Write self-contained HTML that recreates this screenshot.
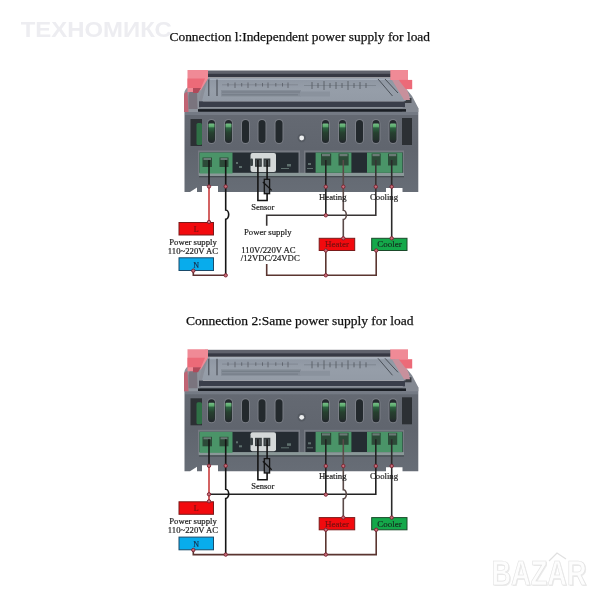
<!DOCTYPE html>
<html><head><meta charset="utf-8">
<style>
html,body{margin:0;padding:0;background:#fff;width:600px;height:600px;overflow:hidden}
svg{display:block;will-change:transform}
text{font-family:"Liberation Serif",serif}
</style></head><body>
<svg width="600" height="600" viewBox="0 0 600 600">
<defs>
<g id="dev">
  <!-- body -->
  <defs><linearGradient id="bodyg" x1="0" y1="0" x2="0" y2="1"><stop offset="0" stop-color="#656a73"/><stop offset="0.5" stop-color="#60656e"/><stop offset="1" stop-color="#676d76"/></linearGradient></defs>
  <path d="M184.5,108 L418.3,108 L418.3,192 L402.5,192 L402.5,188 L386,188 L386,192 L218,192 L218,186 L202,186 L202,192 L197,192 L197,187.5 L190,192 L184.5,192 Z" fill="url(#bodyg)"/>
  <rect x="185" y="111.7" width="233" height="3.3" fill="#747a84"/>
  <!-- left frame -->
  <path d="M184,94 Q185,87 191,86 L207,78 L210,78 L203,101 L199,112 L184,112 Z" fill="#8e939c"/>
  <path d="M188.5,96 Q189,90 193,90 L197,90 L197.5,109 L188.5,109 Z" fill="#7a747e"/>
  <!-- right frame -->
  <path d="M393,80 L399,80 L412,96 L418.3,108 L418.3,112 L402,112 L404,100 Z" fill="#848992"/>
  <path d="M398,82 L404,84 L410,98 L404,98 Z" fill="#c8aab4"/>
  <rect x="405" y="98" width="6.5" height="5" fill="#3a3d42"/>
  <!-- top bands -->
  <rect x="205" y="70.5" width="186" height="3.5" fill="#60626c"/>
  <rect x="205" y="73.8" width="186" height="3.7" fill="#363843"/>
  <!-- lid -->
  <defs><linearGradient id="lidg" x1="0" y1="0" x2="0" y2="1">
    <stop offset="0" stop-color="#8e96a2"/><stop offset="0.5" stop-color="#969ea9"/><stop offset="1" stop-color="#939ba6"/></linearGradient></defs>
  <path d="M207,78 L394,78 L406,101 L200,101 Z" fill="url(#lidg)"/>
  <rect x="210" y="78.5" width="180" height="1.5" fill="#a6aeba"/>
  <path d="M205,78 L208,78 L202,101 L199,101 Z" fill="#8a8e98"/>
  <g stroke="#3e424a" stroke-width="1" fill="none">
    <path d="M208.8,79.5 V96 M217,79.5 V96"/>
    <path d="M222,84.8 H298" stroke="#7a8089" stroke-width="0.7"/>
    <path d="M228,83 V86.5 M235,82.5 V88 M241.7,83 V86.5 M248,82.5 V88 M255.8,83 V86.5 M262.5,83 V86.5 M268,82.5 V88 M275.8,83 V86.5 M282.5,83 V86.5 M288,82.5 V88" stroke-width="0.7" stroke="#50555d"/>
    <rect x="221" y="90" width="80" height="6.5" fill="#858d98" stroke="none"/><path d="M222,92 H300 M222,94.8 H298" stroke="#6f7782" stroke-width="0.8"/>
    <path d="M304,85.5 H376" stroke="#767c86" stroke-width="0.7"/><path d="M312,82 V89 M318,83 V88 M324,81 V90 M330,83 V88 M336,82 V89 M342,83 V88 M348,81 V90 M354,83 V88 M360,82 V89 M366,83 V88" stroke="#50565e" stroke-width="0.8"/>
    <rect x="300" y="91.5" width="30" height="5" fill="#8a929d" stroke="none"/>
    <path d="M378,79 L392.5,96 M385,79 L398,93" stroke="#4a5058" stroke-width="1"/>
  </g>
  <!-- bands below lid -->
  <rect x="199" y="101.3" width="206" height="5.9" fill="#3a3e4a"/>
  <rect x="199" y="107.2" width="206" height="1.9" fill="#7c828b"/>
  <rect x="198" y="109.1" width="208" height="2.6" fill="#1a1e24"/>
  <!-- red clips -->
  <path d="M187.5,70 L208,70 L208,78.5 L201,90 L196,92 L187.5,92 Z" fill="#f08a96"/>
  <path d="M187.5,78.5 L205,78.5 L201,88 L187.5,88 Z" fill="#ec6a78"/>
  <path d="M193,88 L201,88 L198,93 L193,93 Z" fill="#b04a5a"/>
  <path d="M184,96 Q184,92 187.5,92 L188.5,112 L184,112 Z" fill="#c06474"/>
  <path d="M390.3,70 L408,70 L408,80 L390.3,80 Z" fill="#f08a96"/>
  <path d="M398.7,79.9 L412.2,79.9 L412.2,89.2 L398.7,89.2 Z" fill="#ec6a78"/>
  <path d="M392,80 L398.7,80 L408,92 L410,100 L404,100 Z" fill="#c8909c"/>
  <!-- slots -->
  <rect x="190.5" y="119" width="11.5" height="27" fill="#2c3034"/>
  <rect x="196.5" y="123" width="5.5" height="22" rx="1.5" fill="#2f7046"/>
  <rect x="402" y="118" width="10" height="27" fill="#2c3034"/>
  <g fill="#7a7e86">
    <rect x="207" y="119" width="9" height="25" rx="4.5"/>
    <rect x="224" y="119" width="9" height="25" rx="4.5"/>
    <rect x="241" y="119" width="9" height="25" rx="4.5"/>
    <rect x="257.5" y="119" width="9" height="25" rx="4.5"/>
    <rect x="274.5" y="119" width="9" height="25" rx="4.5"/>
    <rect x="321" y="119" width="9" height="25" rx="4.5"/>
    <rect x="338" y="119" width="9" height="25" rx="4.5"/>
    <rect x="355" y="119" width="9" height="25" rx="4.5"/>
    <rect x="371.5" y="119" width="9" height="25" rx="4.5"/>
    <rect x="388.5" y="119" width="9" height="25" rx="4.5"/>
  </g>
  <g fill="#23292d">
    <rect x="208" y="120" width="7" height="23" rx="3.5"/>
    <rect x="225" y="120" width="7" height="23" rx="3.5"/>
    <rect x="242" y="120" width="7" height="23" rx="3.5"/>
    <rect x="258.5" y="120" width="7" height="23" rx="3.5"/>
    <rect x="275.5" y="120" width="7" height="23" rx="3.5"/>
    <rect x="322" y="120" width="7" height="23" rx="3.5"/>
    <rect x="339" y="120" width="7" height="23" rx="3.5"/>
    <rect x="356" y="120" width="7" height="23" rx="3.5"/>
    <rect x="372.5" y="120" width="7" height="23" rx="3.5"/>
    <rect x="389.5" y="120" width="7" height="23" rx="3.5"/>
  </g>
  <defs><linearGradient id="slg" x1="0" y1="0" x2="0" y2="1">
    <stop offset="0" stop-color="#78c088"/><stop offset="0.18" stop-color="#5aa86c"/><stop offset="0.26" stop-color="#2c6240"/><stop offset="0.55" stop-color="#26402f"/><stop offset="1" stop-color="#23302b"/></linearGradient></defs>
  <g fill="url(#slg)">
    <rect x="208.5" y="123.5" width="6" height="17" rx="1"/>
    <rect x="225.5" y="123.5" width="6" height="17" rx="1"/>
    <rect x="322.5" y="123.5" width="6" height="17" rx="1"/>
    <rect x="339.5" y="123.5" width="6" height="17" rx="1"/>
    <rect x="373" y="123.5" width="6" height="17" rx="1"/>
    <rect x="390" y="123.5" width="6" height="17" rx="1"/>
  </g>
  <circle cx="301.7" cy="138" r="4.2" fill="#555a62"/>
  <circle cx="301.7" cy="138" r="2.4" fill="#eceeef"/>
  <!-- terminal recess -->
  <rect x="198" y="150.5" width="102" height="25" fill="#767a82"/>
  <rect x="304" y="150.5" width="100" height="25" fill="#767a82"/>
  <rect x="199.5" y="152.5" width="99" height="21" fill="#252c32"/>
  <rect x="305.5" y="152.5" width="97.5" height="21" fill="#252c32"/>
  <rect x="199" y="172.8" width="205" height="3.2" fill="#8a9898"/>
  <rect x="199" y="176" width="205" height="1.3" fill="#454c52"/>
  <g fill="#4a9468">
    <rect x="199.5" y="152.5" width="33" height="21"/>
    <rect x="315.6" y="152.5" width="35.8" height="20.3"/>
    <rect x="367" y="152.5" width="35.5" height="20.3"/>
  </g>
  <g fill="#2c4a38">
    <rect x="202.5" y="157.5" width="9.5" height="9.5"/>
    <rect x="219.5" y="157.5" width="9" height="9.5"/>
    <rect x="321" y="153.5" width="10.2" height="12"/>
    <rect x="338.5" y="153.5" width="10.1" height="12"/>
    <rect x="371.6" y="153.5" width="9.1" height="12"/>
    <rect x="388" y="153.5" width="9.2" height="12"/>
  </g>
  <g fill="#6a7a76">
    <rect x="203.5" y="158" width="7.5" height="2"/>
    <rect x="220.5" y="158" width="7" height="2"/>
    <rect x="322" y="154" width="8" height="2.2"/>
    <rect x="339.5" y="154" width="8" height="2.2"/>
    <rect x="372.5" y="154" width="7.2" height="2.2"/>
    <rect x="389" y="154" width="7.2" height="2.2"/>
  </g>
  <rect x="250.5" y="153" width="25.5" height="19" rx="2" fill="#d4d8d8"/>
  <rect x="250" y="158.5" width="3" height="7.5" rx="1" fill="#3a4244"/>
  <rect x="255" y="158.5" width="6.8" height="8.3" fill="#363c3e"/>
  <rect x="263.5" y="158.5" width="6.8" height="8.3" fill="#363c3e"/>
  <rect x="256.2" y="160" width="4.4" height="5.5" fill="#50585a"/>
  <rect x="264.7" y="160" width="4.4" height="5.5" fill="#50585a"/>
  <g fill="#8fa8a0" opacity="0.55">
    <rect x="239" y="166" width="3" height="2"/><rect x="236" y="162" width="2" height="2"/>
    <rect x="287" y="164" width="4" height="2.5"/><rect x="281" y="168" width="8" height="1"/>
    <rect x="308" y="163" width="3" height="2"/><rect x="307" y="168" width="6" height="1"/>
    
  </g>
</g>
<g id="dot"><circle r="2.2" fill="#8a2a2a"/></g>
</defs>

<!-- watermark -->
<text x="20.7" y="37.3" style="font-family:'Liberation Sans',sans-serif;font-weight:bold" font-size="21.8" textLength="151" lengthAdjust="spacingAndGlyphs" fill="#ededf1">ТЕХНОМИКС</text>

<!-- ===== Diagram 1 ===== -->
<text x="169.5" y="41" font-size="13.4" textLength="260.5" lengthAdjust="spacing" fill="#111" stroke="#111" stroke-width="0.25">Connection l:Independent power supply for load</text>
<use href="#dev"/>
<g fill="none" stroke-width="1.6">
  <path d="M209,160 V186.5" stroke="#151515"/>
  <path d="M209,186.5 V222" stroke="#c83c3c"/>
  <path d="M225.7,160 V210 a3,4.6 0 0 1 0,9.2 V275.3" stroke="#151515"/>
  <path d="M193.3,270.7 V275.3 H225.7" stroke="#5a3030"/>
  <path d="M257.9,160 V200.5 H267.1 V160" stroke="#151515"/>
  <path d="M266.7,225.8 V215.3 H375.8 V160" stroke="#383434"/>
  <path d="M325.8,160 V215.3" stroke="#222"/>
  <path d="M343.3,160 V210.3 a3,4.6 0 0 1 0,9.2 V238.3" stroke="#5a4a48"/>
  <path d="M391.7,160 V238.3" stroke="#2a2a2a"/>
  <path d="M266.7,264 V275.3 H376.2 V250.5 M325.8,250.5 V275.3" stroke="#5a3530"/>
</g>
<rect x="264.3" y="179.3" width="5.3" height="14.4" fill="#61666e" stroke="#151515" stroke-width="1.3"/>
<path d="M262.9,182 L271.7,190.4" stroke="#151515" stroke-width="1.3"/>
<rect x="179" y="222.5" width="34.5" height="12.5" fill="#f20a0e" stroke="#7a1a1a" stroke-width="1"/>
<rect x="179" y="257.8" width="34.5" height="12.7" fill="#08acec" stroke="#1a4a6a" stroke-width="1"/>
<rect x="319.2" y="238.3" width="35.5" height="12.2" fill="#f20a0e" stroke="#7a1a1a" stroke-width="1"/>
<rect x="371.7" y="238.3" width="35.3" height="12.2" fill="#14a84a" stroke="#1a4a2a" stroke-width="1"/>
<g font-size="8.7" fill="#222" stroke="#222" stroke-width="0.2">
  <text x="196.2" y="232" font-size="8" text-anchor="middle" fill="#7a1010" stroke="#7a1010">L</text>
  <text x="196.2" y="267.5" font-size="8" text-anchor="middle" fill="#153050" stroke="#153050">N</text>
  <text x="193" y="244.5" text-anchor="middle">Power supply</text>
  <text x="193" y="253.6" text-anchor="middle">110~220V AC</text>
  <text x="251.25" y="209.6" font-size="8.5">Sensor</text>
  <text x="244" y="235">Power supply</text>
  <text x="241.3" y="252.5">110V/220V AC</text>
  <text x="240.8" y="261.2">/12VDC/24VDC</text>
  <text x="319" y="200">Heating</text>
  <text x="370" y="200">Cooling</text>
  <text x="337" y="247.4" font-size="9" text-anchor="middle" fill="#7a1010" stroke="#7a1010">Heater</text>
  <text x="389.5" y="247.4" font-size="9" text-anchor="middle" fill="#153020" stroke="#153020">Cooler</text>
</g>
<g fill="#c8707a" stroke="#7a2030" stroke-width="0.9">
  <circle cx="209" cy="186.5" r="1.7"/><circle cx="225.7" cy="186.5" r="1.7"/>
  <circle cx="209" cy="222" r="1.7"/><circle cx="225.7" cy="275.3" r="1.7"/>
  <circle cx="193.3" cy="270.7" r="1.7"/>
  <circle cx="325.8" cy="186.7" r="1.7"/><circle cx="343.3" cy="186.7" r="1.7"/>
  <circle cx="375.8" cy="186.7" r="1.7"/><circle cx="391.7" cy="186.7" r="1.7"/>
  <circle cx="325.8" cy="215.3" r="1.7"/><circle cx="343.3" cy="238.3" r="1.7"/>
  <circle cx="391.7" cy="238.3" r="1.7"/><circle cx="325.8" cy="250.5" r="1.7"/>
  <circle cx="376.2" cy="250.5" r="1.7"/><circle cx="325.8" cy="275.3" r="1.7"/>
</g>

<!-- ===== Diagram 2 ===== -->
<text x="186" y="324.5" font-size="13.5" textLength="227.5" lengthAdjust="spacing" fill="#111" stroke="#111" stroke-width="0.25">Connection 2:Same power supply for load</text>
<use href="#dev" y="279.3"/>
<g transform="translate(0,279.3)">
<g fill="none" stroke-width="1.6">
  <path d="M209,160 V186.5" stroke="#151515"/>
  <path d="M209,186.5 V222" stroke="#c83c3c"/>
  <path d="M209,215 H375.8 V160" stroke="#222"/>
  <path d="M225.7,160 V210 a3,4.6 0 0 1 0,9.2 V275.3" stroke="#151515"/>
  <path d="M193.3,270.7 V275.3 H376.2 V250.5 M325.8,250.5 V275.3" stroke="#5a3530"/>
  <path d="M257.9,160 V200.5 H267.1 V160" stroke="#151515"/>
  <path d="M325.8,160 V215.3" stroke="#222"/>
  <path d="M343.3,160 V210.3 a3,4.6 0 0 1 0,9.2 V238.3" stroke="#5a4a48"/>
  <path d="M391.7,160 V238.3" stroke="#2a2a2a"/>
</g>
<rect x="264.3" y="179.3" width="5.3" height="14.4" fill="#61666e" stroke="#151515" stroke-width="1.3"/>
<path d="M262.9,182 L271.7,190.4" stroke="#151515" stroke-width="1.3"/>
<rect x="179" y="222.5" width="34.5" height="12.5" fill="#f20a0e" stroke="#7a1a1a" stroke-width="1"/>
<rect x="179" y="257.8" width="34.5" height="12.7" fill="#08acec" stroke="#1a4a6a" stroke-width="1"/>
<rect x="319.2" y="238.3" width="35.5" height="12.2" fill="#f20a0e" stroke="#7a1a1a" stroke-width="1"/>
<rect x="371.7" y="238.3" width="35.3" height="12.2" fill="#14a84a" stroke="#1a4a2a" stroke-width="1"/>
<g font-size="8.7" fill="#222" stroke="#222" stroke-width="0.2">
  <text x="196.2" y="232" font-size="8" text-anchor="middle" fill="#7a1010" stroke="#7a1010">L</text>
  <text x="196.2" y="267.5" font-size="8" text-anchor="middle" fill="#153050" stroke="#153050">N</text>
  <text x="193" y="244.8" text-anchor="middle">Power supply</text>
  <text x="193" y="253.8" text-anchor="middle">110~220V AC</text>
  <text x="251.25" y="209.6" font-size="8.5">Sensor</text>
  <text x="319" y="200">Heating</text>
  <text x="370" y="200">Cooling</text>
  <text x="337" y="247.4" font-size="9" text-anchor="middle" fill="#7a1010" stroke="#7a1010">Heater</text>
  <text x="389.5" y="247.4" font-size="9" text-anchor="middle" fill="#153020" stroke="#153020">Cooler</text>
</g>
<g fill="#c8707a" stroke="#7a2030" stroke-width="0.9">
  <circle cx="209" cy="186.5" r="1.7"/><circle cx="225.7" cy="186.5" r="1.7"/>
  <circle cx="209" cy="215" r="1.7"/>
  <circle cx="209" cy="222" r="1.7"/><circle cx="225.7" cy="275.3" r="1.7"/>
  <circle cx="193.3" cy="270.7" r="1.7"/>
  <circle cx="325.8" cy="186.7" r="1.7"/><circle cx="343.3" cy="186.7" r="1.7"/>
  <circle cx="375.8" cy="186.7" r="1.7"/><circle cx="391.7" cy="186.7" r="1.7"/>
  <circle cx="325.8" cy="215.3" r="1.7"/><circle cx="343.3" cy="238.3" r="1.7"/>
  <circle cx="391.7" cy="238.3" r="1.7"/><circle cx="325.8" cy="250.5" r="1.7"/>
  <circle cx="376.2" cy="250.5" r="1.7"/><circle cx="325.8" cy="275.3" r="1.7"/>
</g>
</g>

<!-- BAZAR watermark -->
<g style="font-family:'Liberation Sans',sans-serif;font-weight:bold">
<text style="font-family:'Liberation Sans',sans-serif;font-weight:bold" x="492.5" y="586" font-size="35" textLength="95" lengthAdjust="spacingAndGlyphs" fill="#ebebeb">BAZAR</text>
<text style="font-family:'Liberation Sans',sans-serif;font-weight:bold" x="491.5" y="585" font-size="35" textLength="95" lengthAdjust="spacingAndGlyphs" fill="#fdfdfd" stroke="#e2e2e2" stroke-width="0.7">BAZAR</text>
<path d="M549,561 L557,553 L566,559" fill="none" stroke="#e0e0e0" stroke-width="1.2"/>
</g>
</svg>
</body></html>
